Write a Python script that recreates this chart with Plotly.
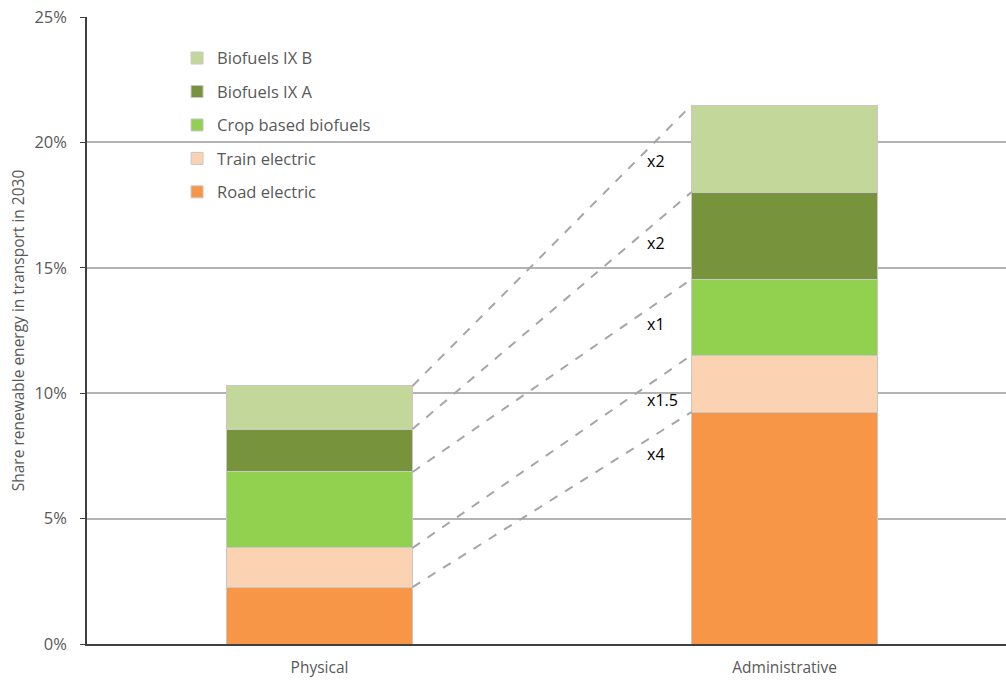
import plotly.graph_objects as go
import numpy as np

categories = ["Physical", "Administrative"]
series_names = ["Road electric", "Train electric", "Crop based biofuels", "Biofuels IX A", "Biofuels IX B"]
physical = [2.27, 1.56, 3.03, 1.71, 1.72]
administrative = [9.25, 2.27, 3.03, 3.47, 3.47]
multipliers = ["x4", "x1.5", "x1", "x2", "x2"]
colors = ["#F79646", "#FBD3B2", "#92D050", "#77933C", "#C4D79B"]

BAR_W = 0.4
FONT = "Open Sans"
GREY_TXT = "#595959"

fig = go.Figure()
for i, name in enumerate(series_names):
    fig.add_trace(go.Bar(
        x=[0, 1], y=[physical[i], administrative[i]], name=name,
        width=BAR_W, marker=dict(color=colors[i], line=dict(color="#C8C8C8", width=1)),
        legendgroup=name, legendrank=100 - i,
    ))

cum_p = np.cumsum(physical)
cum_a = np.cumsum(administrative)
x0, x1 = 0 + BAR_W / 2, 1 - BAR_W / 2
lx = 0.70
for i in range(len(series_names)):
    fig.add_trace(go.Scatter(
        x=[x0, x1], y=[cum_p[i], cum_a[i]], mode="lines",
        line=dict(color="#A6A6A6", width=2, dash="dash"),
        showlegend=False, hoverinfo="skip",
    ))
    t = (lx + 0.02 - x0) / (x1 - x0)
    ly = cum_p[i] + t * (cum_a[i] - cum_p[i])
    fig.add_annotation(x=lx, y=ly, text=multipliers[i], showarrow=False,
                       xanchor="left", yanchor="middle", yshift=-19,
                       font=dict(family=FONT, size=16, color="#000000"))

fig.update_layout(
    width=1006, height=680,
    margin=dict(l=87, r=0, t=17, b=36),
    plot_bgcolor="white", paper_bgcolor="white",
    barmode="stack", bargap=0.6,
    font=dict(family=FONT, size=14, color=GREY_TXT),
    legend=dict(x=0.098, y=0.962, xanchor="left", yanchor="top",
                traceorder="grouped", tracegroupgap=9,
                font=dict(family=FONT, size=16.5, color=GREY_TXT),
                bgcolor="rgba(0,0,0,0)", itemwidth=30),
    showlegend=True,
)
fig.update_xaxes(
    range=[-0.5, 1.476], tickvals=[0, 1], ticktext=categories,
    showline=True, linecolor="#404040", linewidth=1.5, showgrid=False,
    ticks="", tickfont=dict(family=FONT, size=15.5, color=GREY_TXT),
    ticklabelstandoff=9, zeroline=False, automargin=False,
)
fig.update_yaxes(
    range=[0, 25], dtick=5, ticksuffix="%",
    showline=True, linecolor="#404040", linewidth=1.5,
    showgrid=True, gridcolor="#B3B3B3", gridwidth=2,
    ticks="outside", ticklen=5, tickcolor="#404040",
    tickfont=dict(family=FONT, size=16.5, color=GREY_TXT),
    ticklabelstandoff=10, automargin=False,
    title=dict(text="Share renewable energy in transport in 2030",
               font=dict(family=FONT, size=15.5, color=GREY_TXT), standoff=6),
    zeroline=False,
)

fig.write_html("out.html")
